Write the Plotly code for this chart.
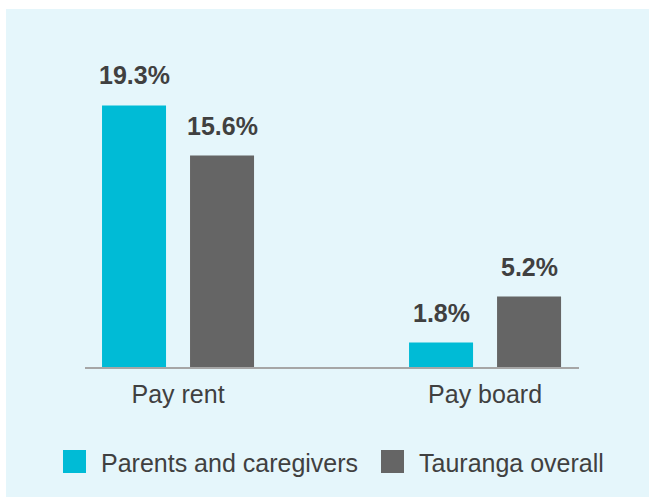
import plotly.graph_objects as go

categories = ["Pay rent", "Pay board"]
series_names = ["Parents and caregivers", "Tauranga overall"]
parents = [19.3, 1.8]
tauranga = [15.6, 5.2]
colors = ["#00BBD6", "#656565"]

W, H = 649, 497
ML, MR, MT, MB = 85, 70, 96, 130
PW, PH = W - ML - MR, H - MT - MB
BARGAP, BARGROUPGAP = 0.4267, 0.2727
FONT = "Liberation Sans, Arial"


def px(x):
    return (x - ML) / PW


def py(y):
    return (H - MB - y) / PH


fig = go.Figure()
for name, vals, col in zip(series_names, [parents, tauranga], colors):
    fig.add_trace(go.Bar(x=list(range(len(categories))), y=vals, name=name,
                         marker=dict(color=col, line=dict(width=0)),
                         showlegend=False, hoverinfo="skip"))

# value labels
off = (1 - BARGAP) / 4
for si, vals in enumerate([parents, tauranga]):
    for ci, v in enumerate(vals):
        fig.add_annotation(x=ci + (-off if si == 0 else off), y=v, xref="x", yref="y",
                           text=f"{v:.1f}%", showarrow=False, yanchor="middle",
                           yshift=30,
                           font=dict(family=FONT, size=25, color="#404040", weight="bold"))

shapes = [dict(type="rect", xref="paper", yref="paper", x0=px(6), x1=px(W + 5),
               y0=py(9), y1=py(H + 5), fillcolor="#E5F6FB", line=dict(width=0),
               layer="below")]

# manual legend
leg_sq = [63, 381]
for i, (name, col) in enumerate(zip(series_names, colors)):
    x0 = leg_sq[i]
    shapes.append(dict(type="rect", xref="paper", yref="paper", x0=px(x0), x1=px(x0 + 23),
                       y0=py(450), y1=py(473), fillcolor=col, line=dict(width=0)))
    fig.add_annotation(x=px(x0 + 36), y=py(463), xref="paper", yref="paper",
                       text=name, showarrow=False, xanchor="left", yanchor="middle",
                       font=dict(family=FONT, size=25, color="#404040"))

fig.update_layout(
    width=W, height=H,
    margin=dict(l=ML, r=MR, t=MT, b=MB, autoexpand=False),
    paper_bgcolor="white", plot_bgcolor="rgba(0,0,0,0)",
    barmode="group", bargap=BARGAP, bargroupgap=BARGROUPGAP,
    shapes=shapes, hovermode=False,
    xaxis=dict(range=[-0.303, 1.306], tickmode="array", tickvals=[0, 1],
               ticktext=categories, showgrid=False, zeroline=False,
               showline=True, linecolor="#A6A6A6", linewidth=1.5, ticks="",
               ticklabelstandoff=4,
               tickfont=dict(family=FONT, size=25, color="#404040")),
    yaxis=dict(range=[0, 20], visible=False, showgrid=False, zeroline=False),
)

fig.write_html("out.html", config={"displayModeBar": False, "staticPlot": True},
               post_script="document.body.style.margin='0';document.body.style.overflow='hidden';")
